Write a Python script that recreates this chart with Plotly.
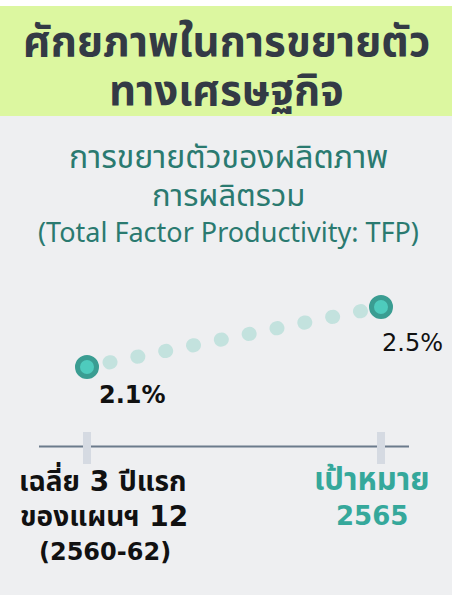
import plotly.graph_objects as go

# ---- data ----
categories = ["avg", "target"]
cat_x = [0, 1]
tfp_values = [2.1, 2.5]
value_labels = ["2.1%", "2.5%"]
cat_label_lines = [
    ["เฉลี่ย 3 ปีแรก", "ของแผนฯ 12", "(2560-62)"],
    ["เป้าหมาย", "2565"],
]
title_lines = ["ศักยภาพในการขยายตัว", "ทางเศรษฐกิจ"]
subtitle_lines = ["การขยายตัวของผลิตภาพ", "การผลิตรวม", "(Total Factor Productivity: TFP)"]

W, H = 452, 595
FONT = "DejaVu Sans, Noto Sans Thai, Noto Sans, sans-serif"
FONT_N = "Noto Sans, Noto Sans Thai, sans-serif"

def py(p):
    return 1 - p / H

fig = go.Figure()

# dotted connector
fig.add_trace(go.Scatter(
    x=cat_x, y=tfp_values, mode="lines",
    line=dict(color="#c3e2de", width=14, dash="1px,27.4px"),
    hoverinfo="skip", showlegend=False,
))
# end markers
fig.add_trace(go.Scatter(
    x=cat_x, y=tfp_values, mode="markers",
    marker=dict(size=19, color="#4ecbbd", line=dict(color="#3a9d92", width=5)),
    hoverinfo="skip", showlegend=False,
))

shapes = [
    dict(type="rect", xref="paper", yref="paper", x0=0, x1=1, y0=py(6), y1=1,
         fillcolor="white", line_width=0, layer="below"),
    dict(type="rect", xref="paper", yref="paper", x0=0, x1=1, y0=py(116), y1=py(6),
         fillcolor="#dcf7a0", line_width=0, layer="below"),
    dict(type="line", xref="paper", yref="paper", x0=39 / W, x1=409 / W, y0=py(446.5), y1=py(446.5),
         line=dict(color="#6b7b8c", width=2), layer="below"),
]
for xv in cat_x:
    shapes.append(dict(type="line", xref="x", yref="paper", x0=xv, x1=xv, y0=py(464), y1=py(432),
                       line=dict(color="#d5dae2", width=8), layer="below"))

ann = []
def add_text(text, xpx, ypx, size, color, bold=False, family=FONT):
    ann.append(dict(text=f"<b>{text}</b>" if bold else text, xref="paper", yref="paper",
                    x=xpx / W, y=py(ypx), xanchor="center", yanchor="middle", showarrow=False,
                    font=dict(family=family, size=size, color=color)))

add_text(title_lines[0], 226, 42, 42, "#333a45", True)
add_text(title_lines[1], 226, 90, 42, "#333a45", True)
add_text(subtitle_lines[0], 229, 157, 32, "#2a7a70")
add_text(subtitle_lines[1], 229, 195, 31, "#2a7a70")
add_text(subtitle_lines[2], 229, 232, 27, "#2a7a70", family=FONT_N)

# value labels anchored to data points
label_shift = [(45, -28), (31, -36)]
for i, (xv, yv, lab) in enumerate(zip(cat_x, tfp_values, value_labels)):
    dx, dy = label_shift[i]
    ann.append(dict(text=f"<b>{lab}</b>" if i == 0 else lab, x=xv, y=yv, xref="x", yref="y",
                    xshift=dx, yshift=dy, showarrow=False, xanchor="center", yanchor="middle",
                    font=dict(family=FONT, size=24, color="#111111")))

# category labels
cat_colors = ["#111111", "#35a89b"]
cat_xshift = [[16, 17, 18], [-9, -9]]
line_y = [479, 516, 552]
line_size = [[28, 28, 24], [31, 26]]
for i, lines in enumerate(cat_label_lines):
    for j, t in enumerate(lines):
        ann.append(dict(text=f"<b>{t}</b>", x=cat_x[i], xref="x", xshift=cat_xshift[i][j],
                        y=py(line_y[j]), yref="paper", showarrow=False,
                        xanchor="center", yanchor="middle",
                        font=dict(family=FONT, size=line_size[i][j], color=cat_colors[i])))

x0px = 87
unit = 294
fig.update_layout(
    width=W, height=H,
    margin=dict(l=0, r=0, t=0, b=0),
    paper_bgcolor="#eeeff1", plot_bgcolor="rgba(0,0,0,0)",
    xaxis=dict(range=[-x0px / unit, (W - x0px) / unit], visible=False, fixedrange=True),
    yaxis=dict(range=[2.5 - (H - 307) / 150, 2.5 + 307 / 150], visible=False, fixedrange=True),
    shapes=shapes, annotations=ann, showlegend=False,
)

post = """
document.body.style.margin = '0';
document.body.style.overflow = 'hidden';
document.querySelectorAll('.scatterlayer .js-line').forEach(function(p){
  p.style.strokeLinecap = 'round';
  p.style.strokeDashoffset = '-23';
});
"""
fig.write_html("out.html", post_script=post, config={"displayModeBar": False})
